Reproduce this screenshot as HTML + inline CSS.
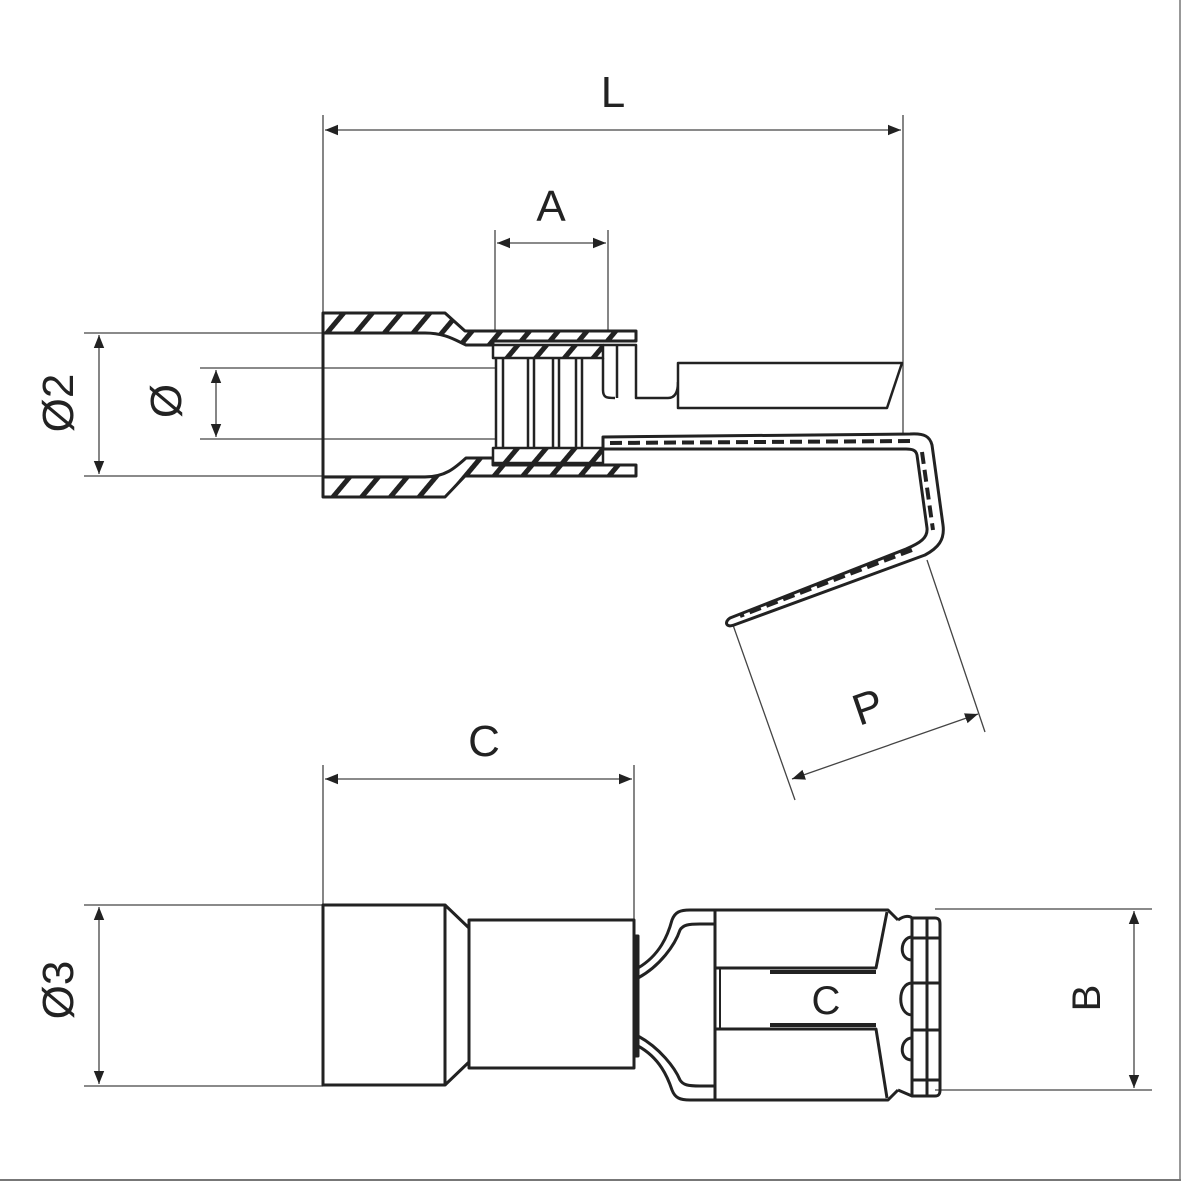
<!DOCTYPE html>
<html><head><meta charset="utf-8"><style>
html,body{margin:0;padding:0;background:#fff;}
svg{display:block;}
text{font-family:"Liberation Sans",sans-serif;fill:#222;}
</style></head><body>
<svg width="1181" height="1181" viewBox="0 0 1181 1181" xmlns="http://www.w3.org/2000/svg">
<defs>
<pattern id="h" patternUnits="userSpaceOnUse" width="22" height="22" patternTransform="rotate(40)">
<rect width="22" height="22" fill="#fff"/><rect x="0" y="0" width="5" height="22" fill="#222"/>
</pattern>
<marker id="a" viewBox="0 0 10 10" refX="10" refY="5" markerWidth="13" markerHeight="13" markerUnits="userSpaceOnUse" orient="auto-start-reverse">
<path d="M0,1 L10,5 L0,9 z" fill="#222"/></marker>
</defs>
<rect x="0" y="0" width="1181" height="1181" fill="#fff"/>
<line x1="0" y1="1180" x2="1181" y2="1180" stroke="#777" stroke-width="2"/>
<line x1="1180" y1="0" x2="1180" y2="1181" stroke="#777" stroke-width="1.5"/>

<g stroke="#444" stroke-width="1.3" fill="none">
<line x1="323" y1="115" x2="323" y2="313"/>
<line x1="903" y1="115" x2="903" y2="437"/>
<line x1="325" y1="130" x2="901" y2="130" marker-start="url(#a)" marker-end="url(#a)"/>
<line x1="495" y1="230" x2="495" y2="332"/>
<line x1="608" y1="230" x2="608" y2="332"/>
<line x1="497" y1="243" x2="606" y2="243" marker-start="url(#a)" marker-end="url(#a)"/>
<line x1="84" y1="333" x2="450" y2="333"/>
<line x1="84" y1="476" x2="450" y2="476"/>
<line x1="99" y1="335" x2="99" y2="474" marker-start="url(#a)" marker-end="url(#a)"/>
<line x1="200" y1="368" x2="497" y2="368"/>
<line x1="200" y1="439" x2="497" y2="439"/>
<line x1="216" y1="370" x2="216" y2="437" marker-start="url(#a)" marker-end="url(#a)"/>
<line x1="733" y1="625" x2="795" y2="800"/>
<line x1="927" y1="560" x2="985" y2="732"/>
<line x1="792" y1="779" x2="978" y2="714" marker-start="url(#a)" marker-end="url(#a)"/>
<line x1="323" y1="765" x2="323" y2="905"/>
<line x1="634" y1="765" x2="634" y2="920"/>
<line x1="325" y1="779" x2="632" y2="779" marker-start="url(#a)" marker-end="url(#a)"/>
<line x1="84" y1="905" x2="323" y2="905"/>
<line x1="84" y1="1086" x2="323" y2="1086"/>
<line x1="99" y1="907" x2="99" y2="1084" marker-start="url(#a)" marker-end="url(#a)"/>
<line x1="935" y1="909" x2="1152" y2="909"/>
<line x1="935" y1="1090" x2="1152" y2="1090"/>
<line x1="1134" y1="911" x2="1134" y2="1088" marker-start="url(#a)" marker-end="url(#a)"/>
</g>

<text x="613" y="107" font-size="44" text-anchor="middle">L</text>
<text x="551" y="221" font-size="44" text-anchor="middle">A</text>
<text x="484" y="756" font-size="44" text-anchor="middle">C</text>
<text x="868" y="722" font-size="44" text-anchor="middle" transform="rotate(-19 868 707)">P</text>
<text font-size="44" text-anchor="middle" transform="translate(73 403) rotate(-90)">Ø2</text>
<text font-size="44" text-anchor="middle" transform="translate(181 401) rotate(-90)">Ø</text>
<text font-size="44" text-anchor="middle" transform="translate(73 990) rotate(-90)">Ø3</text>
<text font-size="40" text-anchor="middle" transform="translate(1100 998) rotate(-90)">B</text>

<g stroke="#222" stroke-width="3" stroke-linejoin="round">
<path d="M323,313 L445,313 L465,331 L636,331 L636,341 L493,341 L493,345 L466,345 C455,340 445,333 425,333 L323,333 Z" fill="url(#h)"/>
<path d="M323,497 L445,497 L465,476 L636,476 L636,465 L493,465 L493,458 L466,458 C455,468 445,477 425,477 L323,477 Z" fill="url(#h)"/>
<line x1="323" y1="313" x2="323" y2="497"/>
<rect x="493" y="345" width="110" height="13" fill="url(#h)" stroke-width="2.5"/>
<rect x="493" y="448" width="110" height="15" fill="url(#h)" stroke-width="2.5"/>
<g fill="none" stroke-width="2.5">
<line x1="496" y1="358" x2="496" y2="448"/>
<line x1="503" y1="358" x2="503" y2="448"/>
<line x1="528" y1="358" x2="528" y2="448"/>
<line x1="534" y1="358" x2="534" y2="448"/>
<line x1="553" y1="358" x2="553" y2="448"/>
<line x1="559" y1="358" x2="559" y2="448"/>
<line x1="576" y1="358" x2="576" y2="448"/>
<line x1="582" y1="358" x2="582" y2="448"/>
<path d="M603,345 L636,345 L636,398 L668,398 C676,398 678,390 678,382"/>
<path d="M603,358 L603,390 C603,398 607,398 615,398"/>
<line x1="617" y1="345" x2="617" y2="398"/>
<path d="M678,363 L902,363 L887,408 L678,408 Z" fill="#fff"/>
</g>
<path d="M603,437 L910,434 C925,433 930,437 932,445 L943,525 C945,540 938,548 925,555 L734,625 C726,628 724,622 730,618 L906,549 C920,543 928,538 927,528 L917,455 C916,450 912,449 906,449 L603,449 Z" fill="#fff" stroke-width="3"/>
<path d="M610,443 L910,441 M922,452 L933,530 M912,550 L740,616" fill="none" stroke="#222" stroke-width="4" stroke-dasharray="12 6"/>
</g>

<g stroke="#222" stroke-width="3" fill="none" stroke-linejoin="round">
<rect x="323" y="905" width="122" height="180"/>
<path d="M445,905 L469,928 L469,1062 L445,1085"/>
<rect x="469" y="920" width="165" height="148"/>
<rect x="634" y="936" width="4" height="120" fill="#222"/>
<path d="M638,968 C660,955 668,935 672,920 C675,912 680,910 690,910 L888,910 L898,920 M638,978 C660,966 675,945 680,930 C683,925 688,924 700,924 L715,924"/>
<path d="M638,1046 C660,1058 668,1078 672,1090 C675,1098 680,1100 690,1100 L888,1100 L898,1090 M638,1036 C660,1048 675,1068 680,1080 C683,1085 688,1086 700,1086 L715,1086"/>
<line x1="715" y1="911" x2="715" y2="1099"/>
<path d="M887,912 L876,968 L715,968"/>
<path d="M887,1098 L876,1029 L715,1029"/>
<path d="M770,972 L876,972" stroke-width="4"/>
<path d="M770,1025 L876,1025" stroke-width="4"/>
<line x1="720" y1="969" x2="720" y2="1028" stroke-width="2"/>
<path d="M898,920 C905,915 910,916 912,918 L935,918 C940,918 940,922 940,925 L940,1090 C940,1095 938,1096 935,1096 L912,1096 L898,1090"/>
<line x1="912" y1="918" x2="912" y2="1096"/>
<line x1="927" y1="918" x2="927" y2="1096"/>
<line x1="912" y1="938" x2="940" y2="938"/>
<line x1="912" y1="983" x2="940" y2="983"/>
<line x1="912" y1="1030" x2="940" y2="1030"/>
<line x1="912" y1="1080" x2="940" y2="1080"/>
<path d="M912,937 C900,937 898,960 912,960"/>
<path d="M912,983 C897,983 897,1015 912,1015"/>
<path d="M912,1038 C900,1038 898,1060 912,1060"/>
</g>
<text x="826" y="1014" font-size="40" text-anchor="middle">C</text>
</svg>
</body></html>
